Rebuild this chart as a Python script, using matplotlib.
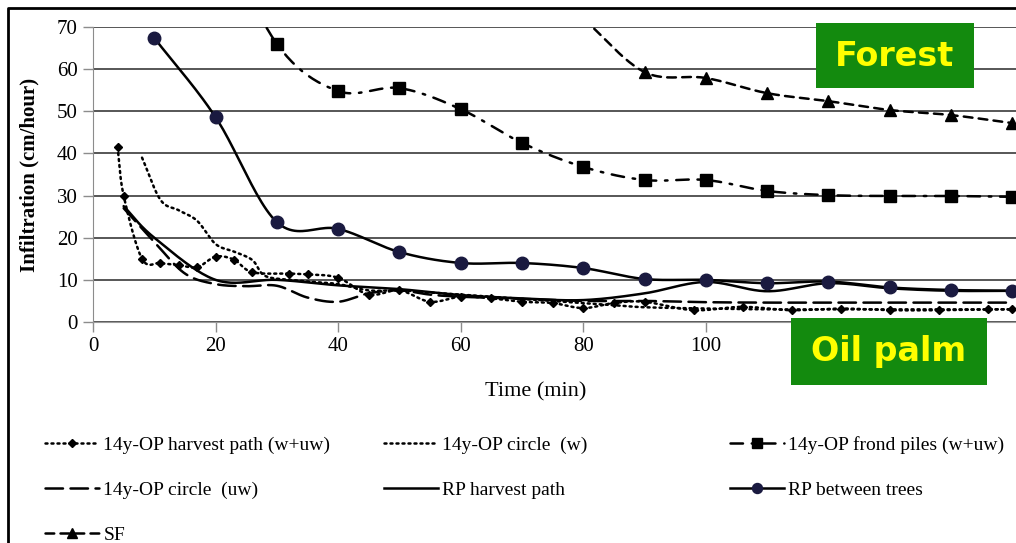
import numpy as np
import matplotlib
matplotlib.use("Agg")
import matplotlib.pyplot as plt
from matplotlib.lines import Line2D
from matplotlib.patches import Rectangle

# ---- data ----
t_hp_wuw = [4, 5, 8, 11, 14, 17, 20, 23, 26, 32, 35, 40, 45, 50, 55, 60, 65, 70, 75, 80, 85, 90,
            98, 106, 114, 122, 130, 138, 146, 150]
v_hp_wuw = [41.5, 30, 15, 14, 13.5, 13, 15.5, 14.8, 11.8, 11.5, 11.3, 10.5, 6.5, 7.5, 4.8, 6.0, 5.6, 4.8, 4.5, 3.3, 4.5, 4.8,
            2.8, 3.6, 2.8, 3.2, 2.8, 2.8, 3.0, 3.0]

t_circ_w = [8, 11, 14, 17, 20, 23, 26, 28, 32, 36, 40, 45, 50, 55, 60, 65, 70, 75, 80, 85, 90,
            100, 110, 120, 130, 140, 150]
v_circ_w = [39, 29, 26.5, 24, 18.5, 16.7, 14.7, 11, 10, 9.5, 9, 7.5, 7.5, 7, 6.5, 6, 5.5, 5, 4.5, 4, 3.5,
            3.2, 3.0, 3.0, 3.0, 3.0, 3.0]

t_frond = [20, 30, 40, 50, 60, 70, 80, 90, 100, 110, 120, 130, 140, 150]
v_frond = [95, 66, 54.8, 55.5, 50.5, 42.5, 36.8, 33.7, 33.7, 31.1, 30.1, 29.9, 29.9, 29.7]

t_circ_uw = [5, 10, 15, 20, 25, 30, 35, 40, 45, 50, 55, 60, 70, 80, 90, 100, 110, 120, 130, 140, 150]
v_circ_uw = [27, 19, 11.5, 9, 8.5, 8.6, 5.8, 4.8, 6.8, 7.5, 6.5, 6.0, 5.5, 5.0, 5.0, 4.7, 4.6, 4.6, 4.6, 4.6, 4.6]

t_rp_hp = [5, 10, 20, 30, 40, 50, 60, 70, 80, 90, 100, 110, 120, 130, 140, 150]
v_rp_hp = [27.5, 20, 10, 10, 8.7, 7.8, 6.4, 5.6, 5.2, 6.8, 9.5, 7.3, 9.2, 8.0, 7.4, 7.4]

t_rp_bt = [10, 20, 30, 40, 50, 60, 70, 80, 90, 100, 110, 120, 130, 140, 150]
v_rp_bt = [67.4, 48.6, 23.7, 22.1, 16.6, 14.0, 14.0, 12.8, 10.2, 10.0, 9.2, 9.6, 8.2, 7.6, 7.4]

t_sf = [80, 90, 100, 110, 120, 130, 140, 150]
v_sf = [72, 59.3, 57.9, 54.3, 52.4, 50.3, 49.1, 47.2]

labels = ["14y-OP harvest path (w+uw)", "14y-OP circle  (w)", "14y-OP frond piles (w+uw)",
          "14y-OP circle  (uw)", "RP harvest path", "RP between trees", "SF"]


def smooth(x, y, n=24):
    """Catmull-Rom curve through the points (like Excel's smoothed lines)."""
    x = np.asarray(x, dtype=float)
    y = np.asarray(y, dtype=float)
    px = np.concatenate([[2 * x[0] - x[1]], x, [2 * x[-1] - x[-2]]])
    py = np.concatenate([[2 * y[0] - y[1]], y, [2 * y[-1] - y[-2]]])
    s = np.linspace(0, 1, n, endpoint=False)
    xs, ys = [], []
    for i in range(1, len(px) - 2):
        for p, out in ((px, xs), (py, ys)):
            p0, p1, p2, p3 = p[i - 1], p[i], p[i + 1], p[i + 2]
            out.extend(0.5 * (2 * p1 + (-p0 + p2) * s + (2 * p0 - 5 * p1 + 4 * p2 - p3) * s ** 2
                              + (-p0 + 3 * p1 - 3 * p2 + p3) * s ** 3))
    xs.append(x[-1])
    ys.append(y[-1])
    return np.array(xs), np.array(ys)


serif = "Liberation Serif"
navy = "#1a1a40"

# style per series: (x, y, linestyle, marker, markersize, color)
styles = [
    (t_hp_wuw, v_hp_wuw, (0, (0.8, 1.6)), "D", 4.5, "black"),
    (t_circ_w, v_circ_w, (0, (0.8, 1.6)), None, 0, "black"),
    (t_frond, v_frond, (0, (5, 3.5, 1, 3.5)), "s", 9, "black"),
    (t_circ_uw, v_circ_uw, (0, (7, 3)), None, 0, "black"),
    (t_rp_hp, v_rp_hp, "-", None, 0, "black"),
    (t_rp_bt, v_rp_bt, "-", "o", 9, navy),
    (t_sf, v_sf, (0, (3.5, 2.5)), "^", 9, "black"),
]

fig = plt.figure(figsize=(10.16, 5.43), dpi=100)
ax = fig.add_axes([93 / 1016, 1 - 322 / 543, 1 - 93 / 1016, 295 / 543])

handles = []
for x, y, ls, mk, ms, col in styles:
    sx, sy = smooth(x, y)
    ax.plot(sx, sy, linestyle=ls, color="black", linewidth=1.8,
            dash_capstyle="round", solid_capstyle="round", zorder=3)
    if mk:
        ax.plot(x, y, linestyle="none", marker=mk, markersize=ms, color=col, zorder=4)
    handles.append(Line2D([], [], linestyle=ls, color="black", linewidth=1.8, marker=mk,
                          markersize=ms * 0.8 if mk else 0, markerfacecolor=col,
                          markeredgecolor=col, dash_capstyle="round"))

ax.set_xlim(0, 150.6)
ax.set_ylim(0, 70)
# ticks at 120 and 140 sit under the "Oil palm" box in the original
ax.set_xticks(range(0, 101, 20))
ax.set_yticks(range(0, 71, 10))
ax.grid(axis="y", color="#3a3a3a", linewidth=1.2)
ax.set_axisbelow(True)
for side in ("top", "right"):
    ax.spines[side].set_visible(False)
ax.spines["left"].set_color("#8c8c8c")
ax.spines["bottom"].set_color("#9a9a9a")
ax.tick_params(axis="both", colors="#8c8c8c", length=7, width=1, labelcolor="black",
               labelsize=15, pad=4)
for lab in ax.get_xticklabels() + ax.get_yticklabels():
    lab.set_family(serif)

ax.set_xlabel("Time (min)", family=serif, fontsize=16)
ax.xaxis.set_label_coords(0.48, -0.205)
ax.set_ylabel("Infiltration (cm/hour)", family=serif, fontsize=15, fontweight="bold")
ax.yaxis.set_label_coords(-0.058, 0.5)

# green annotation boxes
green = "#138a0e"
fig.patches.append(Rectangle((816 / 1016, 1 - 88 / 543), 158 / 1016, 65 / 543,
                             transform=fig.transFigure, facecolor=green, edgecolor="none", zorder=5))
fig.text(895 / 1016, 1 - 56 / 543, "Forest", color="#ffff00", fontsize=24, fontweight="bold",
         family="DejaVu Sans", ha="center", va="center", zorder=6)
fig.patches.append(Rectangle((791 / 1016, 1 - 385 / 543), 196 / 1016, 67 / 543,
                             transform=fig.transFigure, facecolor=green, edgecolor="none", zorder=5))
fig.text(889 / 1016, 1 - 352 / 543, "Oil palm", color="#ffff00", fontsize=24, fontweight="bold",
         family="DejaVu Sans", ha="center", va="center", zorder=6)

# legend in three columns, filled row by row like the original
columns = [([0, 3, 6], 45), ([1, 4], 384), ([2, 5], 730)]
for idx, left in columns:
    leg = fig.legend([handles[i] for i in idx], [labels[i] for i in idx],
                     loc="upper left", bbox_to_anchor=(left / 1016, 1 - 436 / 543),
                     frameon=False, borderpad=0, borderaxespad=0, handlelength=2.8,
                     handletextpad=0.2, labelspacing=1.42, prop={"family": serif, "size": 14})

# outer frame (left and top edges visible in the original)
fig.add_artist(Line2D([8 / 1016, 8 / 1016, 1], [0, 1 - 8 / 543, 1 - 8 / 543],
                      transform=fig.transFigure, color="black", linewidth=2))

fig.savefig("out.png", dpi=100)
